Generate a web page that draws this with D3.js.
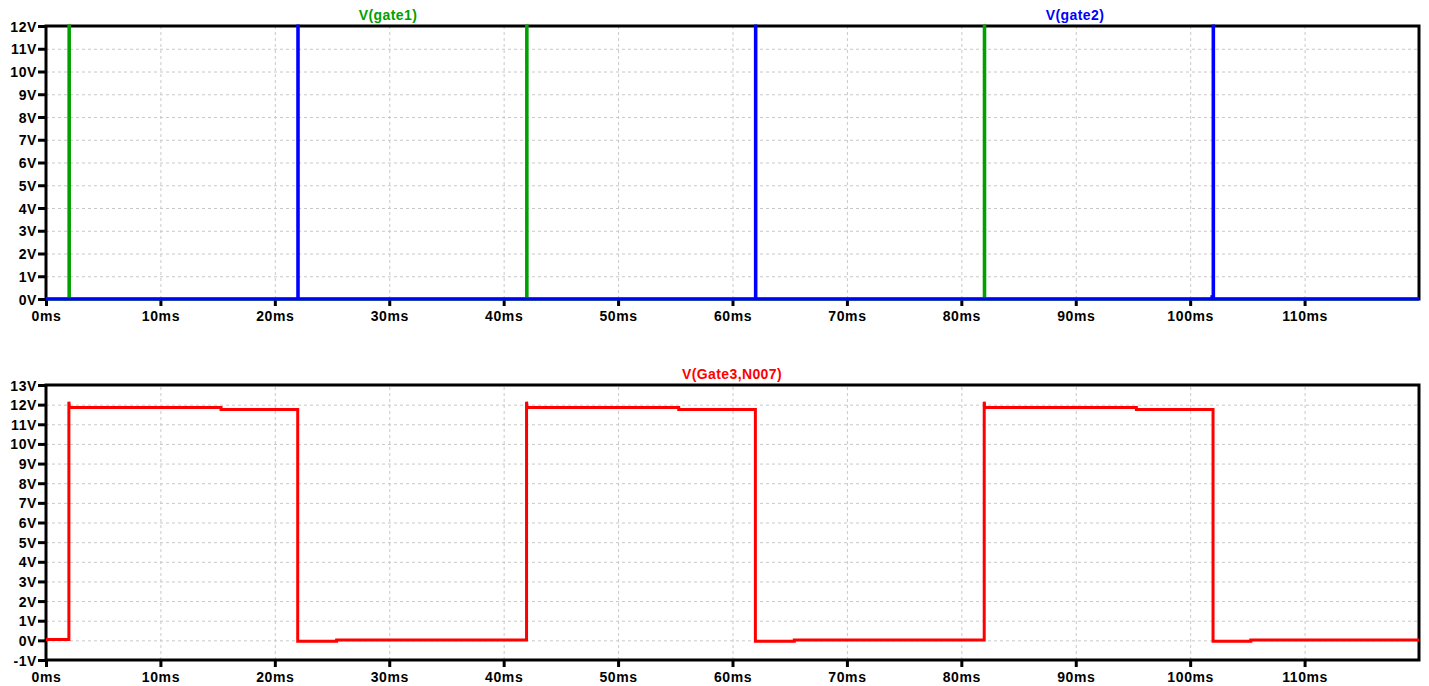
<!DOCTYPE html>
<html>
<head>
<meta charset="utf-8">
<script src="https://cdn.jsdelivr.net/npm/d3@7"></script>
<style>
  body { margin: 0; background: #fff; }
  svg { display: block; }
  .tick text { font-family: "Liberation Sans", Arial, sans-serif; font-weight: bold; font-size: 14px; letter-spacing: 0.6px; fill: #000; }
  .grid line { stroke: #c8c8c8; stroke-dasharray: 3,3; }
  .grid path { display: none; }
</style>
</head>
<body>
<div id="chart"></div>
<script>
// Datos (tiempo en ms, tension en V)
var xTicks = [0, 10, 20, 30, 40, 50, 60, 70, 80, 90, 100, 110];
var topTicks = [0, 1, 2, 3, 4, 5, 6, 7, 8, 9, 10, 11, 12];
var bottomTicks = [-1, 0, 1, 2, 3, 4, 5, 6, 7, 8, 9, 10, 11, 12, 13];

var gate1T = [0, 2, 2, 2.05, 2.05, 42, 42, 42.05, 42.05, 82, 82, 82.05, 82.05, 120];
var gate1V = [0, 0, 12, 12, 0, 0, 12, 12, 0, 0, 12, 12, 0, 0];

var gate2T = [0, 22, 22, 22.05, 22.05, 62, 62, 62.05, 62.05, 101.9, 101.9, 102, 102, 102.05, 102.05, 120];
var gate2V = [0, 0, 12, 12, 0, 0, 12, 12, 0, 0, 0.1, 0.1, 12, 12, 0, 0];

var gate3T = [0, 2, 2, 2.05, 15.3, 15.3, 22, 22, 25.4, 25.4,
              42, 42, 42.05, 55.3, 55.3, 62, 62, 65.4, 65.4,
              82, 82, 82.05, 95.3, 95.3, 102, 102, 105.3, 105.3, 120];
var gate3V = [0.05, 0.05, 12.15, 11.85, 11.85, 11.75, 11.75, -0.05, -0.05, 0.02,
              0.02, 12.15, 11.85, 11.85, 11.75, 11.75, -0.05, -0.05, 0.02,
              0.02, 12.15, 11.85, 11.85, 11.75, 11.75, -0.05, -0.05, 0.02, 0.02];

var W = 1429, H = 686;
var svg = d3.select('#chart').append('svg')
  .attr('width', W)
  .attr('height', H);

var x = d3.scaleLinear().domain([0, 120]).range([46, 1419]);

function zip(t, v) {
  return t.map(function(d, i) { return [d, v[i]]; });
}

function drawPanel(top, bottom, yDomain, yTicks, series) {
  var y = d3.scaleLinear().domain(yDomain).range([bottom, top]);
  var g = svg.append('g');

  // rejilla
  g.append('g').classed('grid', true)
    .attr('transform', 'translate(0,' + bottom + ')')
    .call(d3.axisBottom(x).tickValues(xTicks.slice(1)).tickSize(-(bottom - top)).tickFormat(''));
  g.append('g').classed('grid', true)
    .attr('transform', 'translate(' + x(0) + ',0)')
    .call(d3.axisLeft(y).tickValues(yTicks.slice(1, -1)).tickSize(-(x(120) - x(0))).tickFormat(''));

  // marco
  g.append('rect')
    .attr('x', x(0))
    .attr('y', top)
    .attr('width', x(120) - x(0))
    .attr('height', bottom - top)
    .style('fill', 'none')
    .style('stroke', '#000')
    .style('stroke-width', 3);

  // ejes
  var yAxis = g.append('g')
    .attr('transform', 'translate(' + x(0) + ',0)')
    .call(d3.axisLeft(y).tickValues(yTicks).tickSize(8).tickSizeOuter(0).tickPadding(1)
      .tickFormat(function(d) { return d + 'V'; }));
  yAxis.select('.domain').remove();
  yAxis.selectAll('.tick line').style('stroke', '#000').style('stroke-width', 3);
  yAxis.selectAll('.tick text').attr('dy', '0.36em');

  var xAxis = g.append('g')
    .attr('transform', 'translate(0,' + bottom + ')')
    .call(d3.axisBottom(x).tickValues(xTicks).tickSize(7).tickSizeOuter(0).tickPadding(5)
      .tickFormat(function(d) { return d + 'ms'; }));
  xAxis.select('.domain').remove();
  xAxis.selectAll('.tick line').style('stroke', '#000').style('stroke-width', 3);

  // series (encima del marco)
  var line = d3.line()
    .x(function(d) { return x(d[0]); })
    .y(function(d) { return y(d[1]); });
  series.forEach(function(s) {
    g.append('path')
      .datum(zip(s.t, s.v))
      .attr('d', line)
      .style('fill', 'none')
      .style('stroke', s.color)
      .style('stroke-width', 3)
      .style('stroke-linejoin', 'miter');
  });

  return g;
}

function title(txt, cx, cy, color) {
  svg.append('text')
    .attr('x', cx)
    .attr('y', cy)
    .style('text-anchor', 'middle')
    .style('font-family', '"Liberation Sans", Arial, sans-serif')
    .style('font-weight', 'bold')
    .style('font-size', '14px')
    .style('letter-spacing', '0.4px')
    .style('fill', color)
    .text(txt);
}

drawPanel(26, 299, [0, 12], topTicks, [
  {t: gate1T, v: gate1V, color: '#00a000'},
  {t: gate2T, v: gate2V, color: '#0000ff'}
]);
drawPanel(385, 660, [-1, 13], bottomTicks, [
  {t: gate3T, v: gate3V, color: '#ff0000'}
]);

title('V(gate1)', 388, 20, '#00a000');
title('V(gate2)', 1075, 20, '#0000ff');
title('V(Gate3,N007)', 732, 379, '#ff0000');
</script>
</body>
</html>
